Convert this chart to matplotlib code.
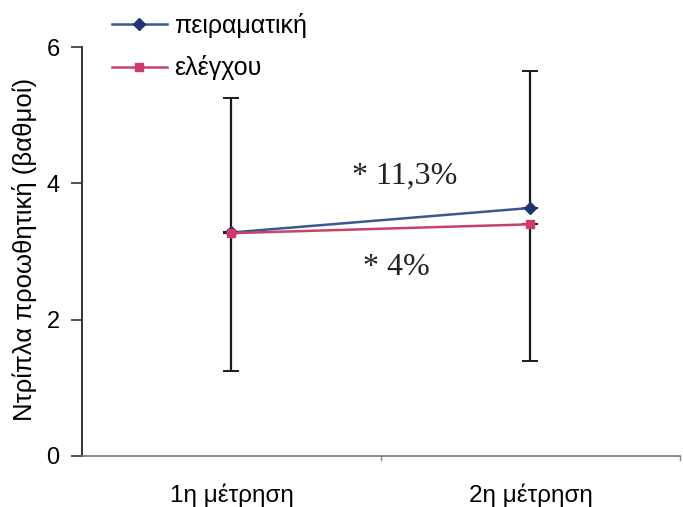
import matplotlib
matplotlib.use("Agg")
import matplotlib.pyplot as plt

# Data
categories = ["1η μέτρηση", "2η μέτρηση"]
series_names = ["πειραματική", "ελέγχου"]
experimental = [3.28, 3.64]
control = [3.27, 3.40]
experimental_sd = [1.98, 2.01]
control_sd = [2.02, 2.01]
y_ticks = [0, 2, 4, 6]
annotations = ["* 11,3%", "* 4%"]

plt.rcParams["font.family"] = ["Liberation Sans", "DejaVu Sans"]

fig = plt.figure(figsize=(6.83, 5.07), dpi=100)
ax = fig.add_axes([0.12, 0.1006, 0.8756, 0.8064])

x = [0.5, 1.5]

blue = "#3b5793"
blue_mk = "#1e3572"
red = "#c8416a"
red_mk = "#d2386a"

# Error bars: upper half for the experimental group, lower half for control
ax.errorbar(x, experimental, yerr=[[0, 0], experimental_sd], fmt="none",
            ecolor="#1a1a1a", elinewidth=1.6, capsize=6, capthick=1.4, zorder=2)
ax.errorbar(x, control, yerr=[control_sd, [0, 0]], fmt="none",
            ecolor="#1a1a1a", elinewidth=1.6, capsize=6, capthick=1.4, zorder=2)

l1, = ax.plot(x, experimental, color=blue, lw=1.8, marker="D", ms=6,
              mfc=blue_mk, mec=blue_mk, zorder=3, label=series_names[0])
l2, = ax.plot(x, control, color=red, lw=1.8, marker="s", ms=6,
              mfc=red_mk, mec=red_mk, zorder=4, label=series_names[1])

ax.set_xlim(0, 2)
ax.set_ylim(0, 6)
ax.set_yticks(y_ticks)
ax.set_yticklabels([str(v) for v in y_ticks], fontsize=17)
ax.set_xticks(x)
ax.set_xticklabels(categories, fontsize=17.5)
ax.tick_params(axis="x", length=0, pad=20)
ax.tick_params(axis="y", length=8, width=1.2, direction="out", pad=8, color="#333333")
# category boundary ticks on the x axis
for b in [1, 2]:
    ax.plot([b, b], [0, -0.06], color="#888888", lw=1, clip_on=False)

for side in ["top", "right"]:
    ax.spines[side].set_visible(False)
ax.spines["left"].set_color("#333333")
ax.spines["left"].set_linewidth(1.4)
ax.spines["bottom"].set_color("#777777")
ax.spines["bottom"].set_linewidth(1.2)

ax.set_ylabel("Ντρίπλα προωθητική (βαθμοί)", fontsize=18.5, labelpad=7)
ax.yaxis.label.set_y(0.505)

ax.text(1.08, 4.11, annotations[0], fontsize=23, family="Liberation Serif",
        ha="center", va="center", color="#222222")
ax.text(1.05, 2.77, annotations[1], fontsize=23, family="Liberation Serif",
        ha="center", va="center", color="#222222")

fig.legend(handles=[l1, l2], loc="upper left", bbox_to_anchor=(0.145, 1.0),
           frameon=False, fontsize=18, handlelength=2.2, handletextpad=0.3,
           labelspacing=0.72, borderaxespad=0.1)

fig.savefig("out.png", dpi=100, facecolor="white")
